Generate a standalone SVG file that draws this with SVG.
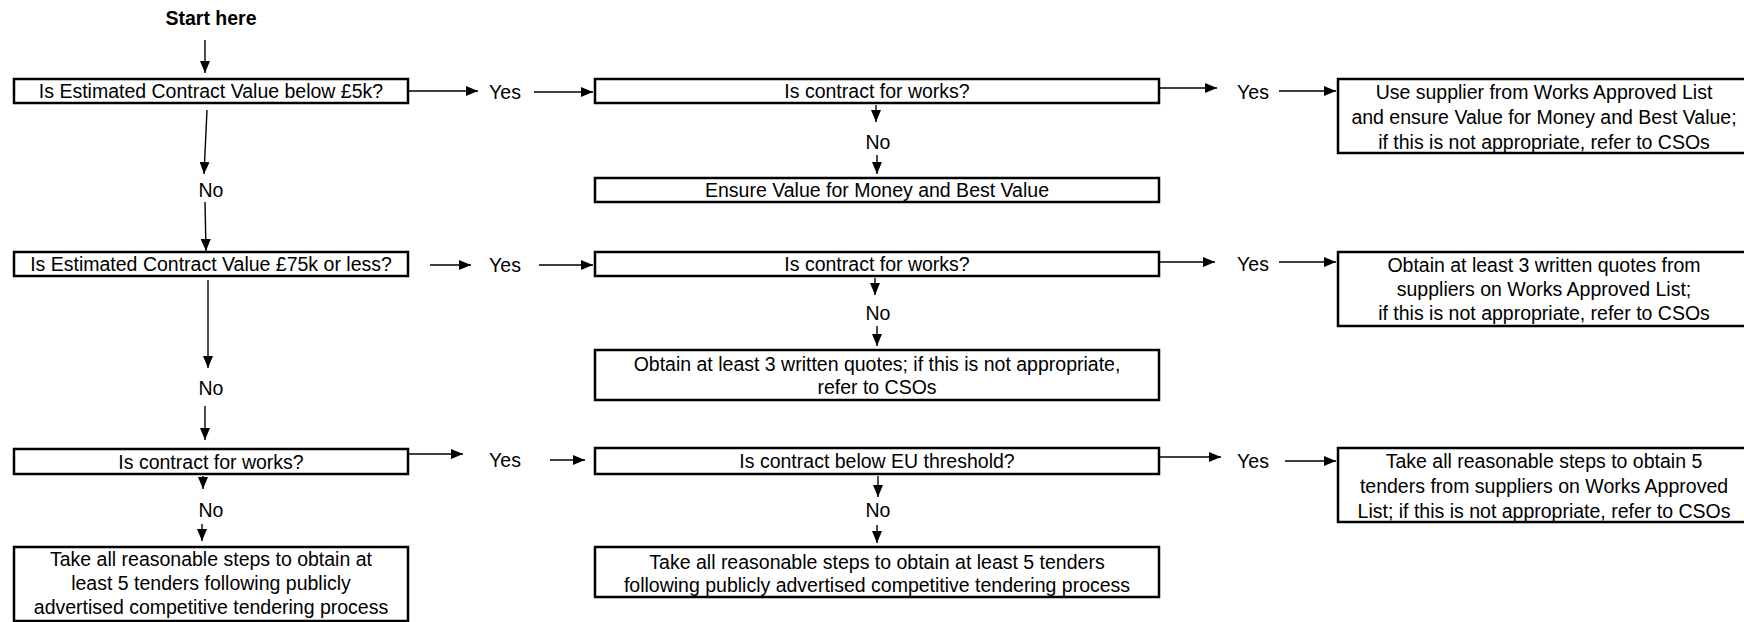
<svg xmlns="http://www.w3.org/2000/svg" width="1744" height="622" viewBox="0 0 1744 622">
<style>
  .box { fill: #ffffff; stroke: #000000; stroke-width: 2.5; }
  .ln { stroke: #000000; stroke-width: 1.4; fill: none; marker-end: url(#ah); }
  text { font-family: "Liberation Sans", Arial, sans-serif; font-size: 19.5px; fill: #000000; text-anchor: middle; }
  .b { font-weight: bold; }
</style>
<defs>
  <marker id="ah" viewBox="0 0 12 10" refX="12" refY="5" markerWidth="12" markerHeight="10" markerUnits="userSpaceOnUse" orient="auto">
    <path d="M0,0 L12,5 L0,10 z" fill="#000000"/>
  </marker>
</defs>
<rect width="1744" height="622" fill="#ffffff"/>

<g id="start">
  <text class="b" x="211" y="25">Start here</text>
</g>

<g id="connectors">
  <line class="ln" x1="205" y1="40" x2="205" y2="73"/>
  <line class="ln" x1="207" y1="110" x2="204" y2="174"/>
  <line class="ln" x1="205" y1="202" x2="206" y2="251"/>
  <line class="ln" x1="208" y1="280" x2="208" y2="368"/>
  <line class="ln" x1="205" y1="406" x2="205" y2="440"/>
  <line class="ln" x1="203" y1="476" x2="203" y2="489"/>
  <line class="ln" x1="202" y1="524" x2="202" y2="541"/>

  <line class="ln" x1="876" y1="105" x2="876" y2="122"/>
  <line class="ln" x1="877" y1="155" x2="877" y2="174"/>
  <line class="ln" x1="875" y1="278" x2="875" y2="295"/>
  <line class="ln" x1="877" y1="326" x2="877" y2="346"/>
  <line class="ln" x1="878" y1="476" x2="878" y2="497"/>
  <line class="ln" x1="877" y1="525" x2="877" y2="543"/>

  <line class="ln" x1="409" y1="91" x2="478" y2="91"/>
  <line class="ln" x1="534" y1="92" x2="593" y2="92"/>
  <line class="ln" x1="1160" y1="88" x2="1217" y2="88"/>
  <line class="ln" x1="1279" y1="91" x2="1336" y2="91"/>

  <line class="ln" x1="430" y1="265" x2="471" y2="265"/>
  <line class="ln" x1="539" y1="265" x2="593" y2="265"/>
  <line class="ln" x1="1160" y1="262" x2="1215" y2="262"/>
  <line class="ln" x1="1279" y1="262" x2="1336" y2="262"/>

  <line class="ln" x1="409" y1="454" x2="463" y2="454"/>
  <line class="ln" x1="550" y1="460" x2="585" y2="460"/>
  <line class="ln" x1="1160" y1="457" x2="1221" y2="457"/>
  <line class="ln" x1="1285" y1="461" x2="1336" y2="461"/>
</g>

<g id="labels">
  <text x="505" y="99">Yes</text>
  <text x="1253" y="99">Yes</text>
  <text x="505" y="272">Yes</text>
  <text x="1253" y="271">Yes</text>
  <text x="505" y="467">Yes</text>
  <text x="1253" y="468">Yes</text>
  <text x="211" y="197">No</text>
  <text x="211" y="395">No</text>
  <text x="211" y="517">No</text>
  <text x="878" y="149">No</text>
  <text x="878" y="320">No</text>
  <text x="878" y="517">No</text>
</g>

<g id="q-below-5k">
  <rect class="box" x="14" y="79" width="394" height="24"/>
  <text x="211" y="98">Is Estimated Contract Value below £5k?</text>
</g>
<g id="q-75k">
  <rect class="box" x="14" y="252" width="394" height="24"/>
  <text x="211" y="271">Is Estimated Contract Value £75k or less?</text>
</g>
<g id="q-works-3">
  <rect class="box" x="14" y="449" width="394" height="25"/>
  <text x="211" y="468.5">Is contract for works?</text>
</g>
<g id="tenders-left">
  <rect class="box" x="14" y="547" width="394" height="74"/>
  <text x="211" y="566">Take all reasonable steps to obtain at</text>
  <text x="211" y="590">least 5 tenders following publicly</text>
  <text x="211" y="614">advertised competitive tendering process</text>
</g>

<g id="q-works-1">
  <rect class="box" x="595" y="79" width="564" height="24"/>
  <text x="877" y="98">Is contract for works?</text>
</g>
<g id="ensure-vfm">
  <rect class="box" x="595" y="178" width="564" height="24"/>
  <text x="877" y="197">Ensure Value for Money and Best Value</text>
</g>
<g id="q-works-2">
  <rect class="box" x="595" y="252" width="564" height="24"/>
  <text x="877" y="271">Is contract for works?</text>
</g>
<g id="quotes-3">
  <rect class="box" x="595" y="350" width="564" height="50"/>
  <text x="877" y="371">Obtain at least 3 written quotes; if this is not appropriate,</text>
  <text x="877" y="394">refer to CSOs</text>
</g>
<g id="q-eu">
  <rect class="box" x="595" y="448" width="564" height="26"/>
  <text x="877" y="468">Is contract below EU threshold?</text>
</g>
<g id="tenders-mid">
  <rect class="box" x="595" y="547" width="564" height="50"/>
  <text x="877" y="569">Take all reasonable steps to obtain at least 5 tenders</text>
  <text x="877" y="592">following publicly advertised competitive tendering process</text>
</g>

<g id="works-approved-1">
  <rect class="box" x="1338" y="79" width="420" height="74"/>
  <text x="1544" y="99">Use supplier from Works Approved List</text>
  <text x="1544" y="124">and ensure Value for Money and Best Value;</text>
  <text x="1544" y="149">if this is not appropriate, refer to CSOs</text>
</g>
<g id="works-approved-2">
  <rect class="box" x="1338" y="252" width="420" height="74"/>
  <text x="1544" y="272">Obtain at least 3 written quotes from</text>
  <text x="1544" y="296">suppliers on Works Approved List;</text>
  <text x="1544" y="320">if this is not appropriate, refer to CSOs</text>
</g>
<g id="works-approved-3">
  <rect class="box" x="1338" y="448" width="420" height="74"/>
  <text x="1544" y="468">Take all reasonable steps to obtain 5</text>
  <text x="1544" y="493">tenders from suppliers on Works Approved</text>
  <text x="1544" y="518">List; if this is not appropriate, refer to CSOs</text>
</g>
</svg>
